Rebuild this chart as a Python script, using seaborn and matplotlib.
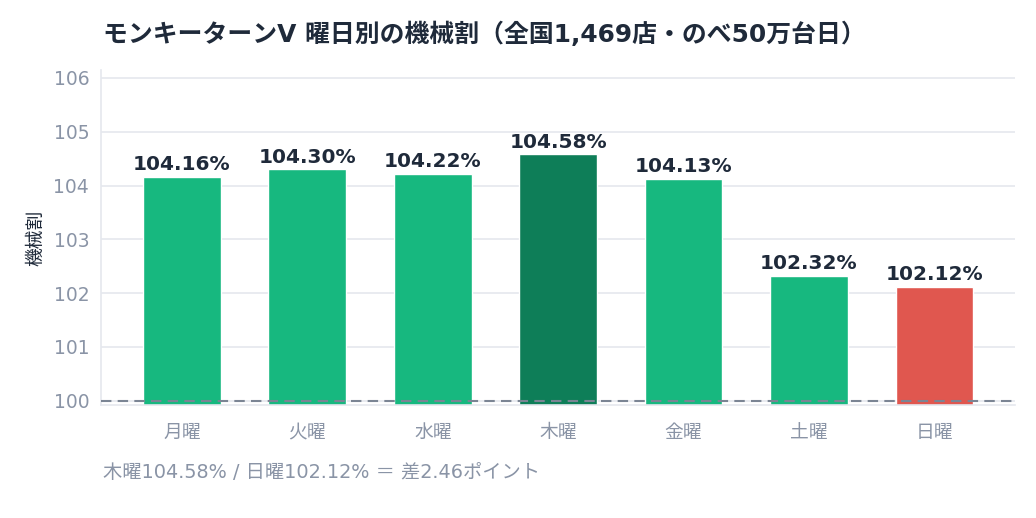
import pandas as pd
import matplotlib
matplotlib.use("Agg")
import matplotlib.pyplot as plt
import seaborn as sns

# Data
days = ['月曜', '火曜', '水曜', '木曜', '金曜', '土曜', '日曜']
payout = [104.16, 104.30, 104.22, 104.58, 104.13, 102.32, 102.12]
bar_colors = ['#17b87f', '#17b87f', '#17b87f', '#0e7e58', '#17b87f', '#17b87f', '#e0574f']
yticks = [100, 101, 102, 103, 104, 105, 106]

df = pd.DataFrame({'day': days, 'payout': payout})

sns.set_theme(style='white')
plt.rcParams['font.family'] = ['DejaVu Sans', 'Noto Sans CJK JP']

dark = '#1f2a3a'
gray = '#8a94a6'
grid = '#e5e8ee'

fig = plt.figure(figsize=(10.36, 5.18), dpi=100)
ax = fig.add_axes([0.0975, 0.218, 0.8825, 0.647])

sns.barplot(data=df, x='day', y='payout', hue='day', palette=bar_colors,
            legend=False, width=0.62, saturation=1, ax=ax, zorder=2)

ax.set_ylim(99.92, 106.15)
ax.set_xlim(-0.645, 6.645)
ax.set_yticks(yticks)
ax.grid(axis='y', color=grid, linewidth=1.2, zorder=0)
ax.axhline(100, color='#7b8594', linestyle='--', linewidth=1.5, dashes=(5, 3), zorder=3)

for s in ['top', 'right']:
    ax.spines[s].set_visible(False)
for s in ['left', 'bottom']:
    ax.spines[s].set_color(grid)
    ax.spines[s].set_linewidth(1.2)

ax.tick_params(axis='both', colors=gray, length=5, width=1.2, direction='out')
ax.tick_params(axis='y', labelsize=13.5, labelcolor=gray)
ax.tick_params(axis='x', labelsize=13.5, labelcolor=gray, pad=8)

for i, v in enumerate(payout):
    ax.annotate(f'{v:.2f}%', (i, v), xytext=(0, 2), textcoords='offset points',
                ha='center', va='bottom', fontsize=14.5, fontweight='bold', color=dark)

ax.set_xlabel('')
ax.set_ylabel('機械割', fontsize=13.5, color=dark, labelpad=6)

fig.text(0.0995, 0.933, 'モンキーターンV 曜日別の機械割（全国1,469店・のべ50万台日）',
         fontsize=17.9, fontweight='bold', color=dark, va='center', ha='left')
fig.text(0.0995, 0.087, '木曜104.58% / 日曜102.12% ＝ 差2.46ポイント',
         fontsize=13.85, color=gray, va='center', ha='left')

fig.savefig('out.png', dpi=100)
